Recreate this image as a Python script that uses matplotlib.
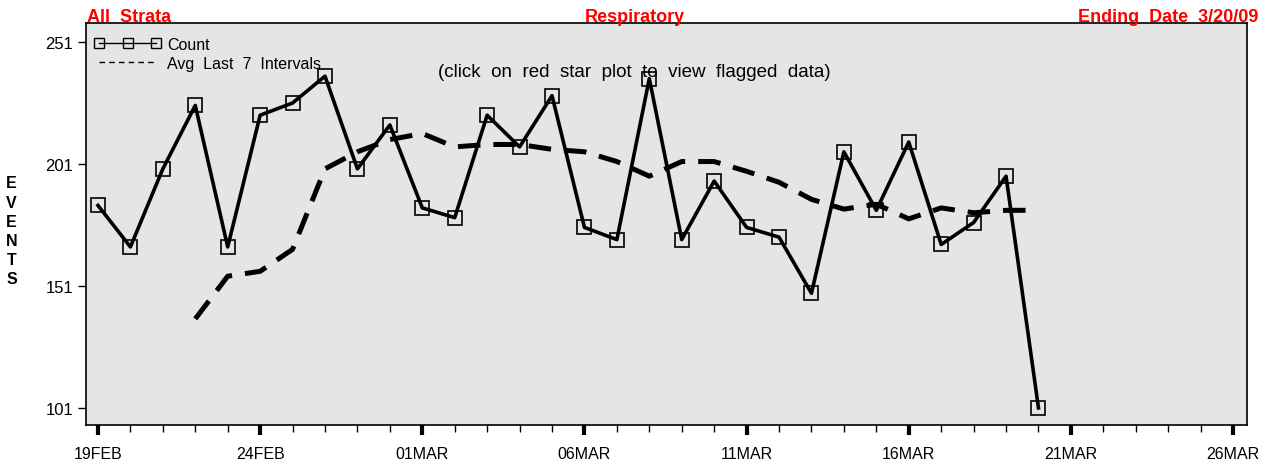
import matplotlib
matplotlib.use("Agg")
import matplotlib.pyplot as plt
import matplotlib.dates as mdates
from matplotlib.lines import Line2D
import numpy as np

plt.rcParams["font.family"] = ["Liberation Sans", "DejaVu Sans"]

# daily counts 19FEB..20MAR 2009
days = np.arange(np.datetime64("2009-02-19"), np.datetime64("2009-03-21"))
count = [184, 167, 199, 225, 167, 221, 226, 237, 199, 217,
         183, 179, 221, 208, 229, 175, 170, 236, 170, 194,
         175, 171, 148, 206, 182, 210, 168, 177, 196, 101]

# moving average, starts 22FEB
avg_days = days[3:]
avg = [137.5, 155, 157, 166, 199, 206, 211, 213.5, 208, 209,
       209, 207, 206, 202, 196, 202, 202, 198, 193.5, 186.5,
       182.5, 184.5, 178.5, 183, 181, 182, 182]

all_days = np.arange(np.datetime64("2009-02-19"), np.datetime64("2009-03-27"))
major_days = all_days[::5]
major_labels = ["19FEB", "24FEB", "01MAR", "06MAR", "11MAR", "16MAR", "21MAR", "26MAR"]
yticks = [101, 151, 201, 251]

fig = plt.figure(figsize=(12.7, 4.64), dpi=100)
ax = fig.add_axes([0.0677, 0.0819, 0.9142, 0.8664])
ax.set_facecolor("#e5e5e5")

ax.plot(avg_days, avg, color="black", lw=3.6, dashes=(4.5, 2.6), zorder=2)
ax.plot(days, count, color="black", lw=2.6, marker="s", ms=10,
        mfc="none", mec="black", mew=1.2, zorder=3)

x0 = mdates.date2num(all_days[0])
ax.set_xlim(x0 - 0.37, x0 + 35.43)
ax.set_ylim(94, 258.8)

ax.set_xticks(mdates.date2num(major_days))
ax.set_xticklabels(major_labels)
ax.set_xticks(mdates.date2num(all_days), minor=True)
ax.tick_params(axis="x", which="major", length=7, width=3, labelsize=11.5, pad=8)
ax.tick_params(axis="x", which="minor", length=5, width=1)
ax.set_yticks(yticks)
ax.tick_params(axis="y", length=6, width=1, labelsize=12, pad=3)
for s in ax.spines.values():
    s.set_linewidth(1.2)

fig.text(0.0685, 0.962, "All  Strata", color="red", fontsize=13, fontweight="bold",
         ha="left", va="center")
fig.text(0.5, 0.962, "Respiratory", color="red", fontsize=13, fontweight="bold",
         ha="center", va="center")
fig.text(0.991, 0.962, "Ending  Date  3/20/09", color="red", fontsize=13, fontweight="bold",
         ha="right", va="center")
fig.text(0.009, 0.5, "E\nV\nE\nN\nT\nS", fontsize=11.5, fontweight="bold",
         ha="center", va="center", linespacing=1.35)
ax.text(0.472, 0.88, "(click  on  red  star  plot  to  view  flagged  data)",
        transform=ax.transAxes, fontsize=13.5, ha="center", va="center")

handles = [
    Line2D([], [], color="black", lw=1, marker="s", ms=7, mfc="none", mew=1),
    Line2D([], [], color="black", lw=1, dashes=(4, 3)),
]
ax.legend(handles, ["Count", "Avg  Last  7  Intervals"], loc="upper left",
          bbox_to_anchor=(0, 0.985), numpoints=3, handlelength=4.2, frameon=False,
          fontsize=11.5, borderaxespad=0.1, handletextpad=0.4, labelspacing=0.25)

fig.savefig("out.png", dpi=100)
